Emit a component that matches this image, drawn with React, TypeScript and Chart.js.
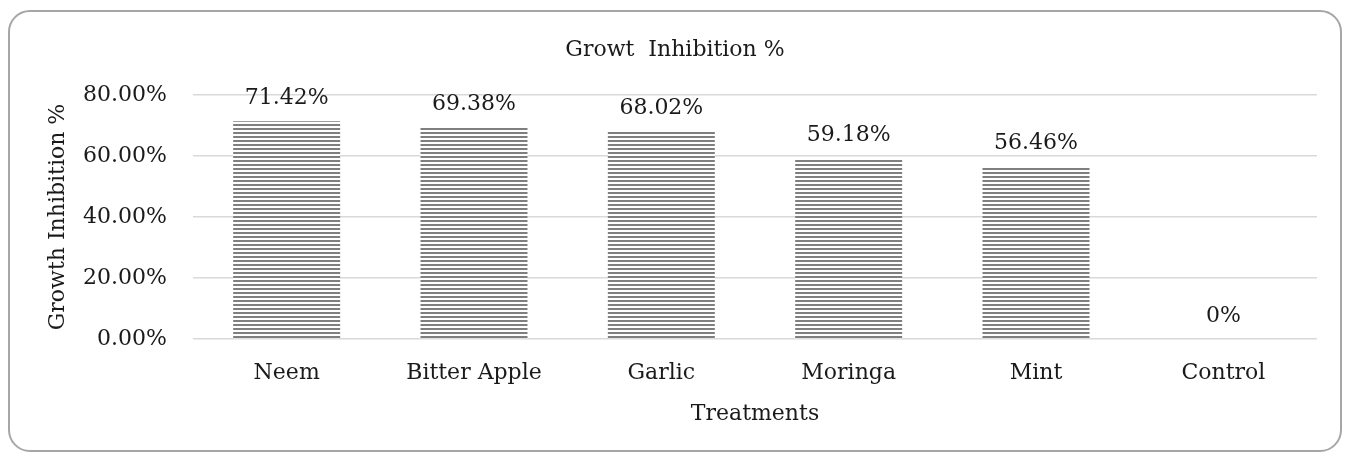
import React, { useEffect, useRef } from "react";
import { Chart, registerables } from "chart.js";

Chart.register(...registerables);

const categories: string[] = ["Neem", "Bitter Apple", "Garlic", "Moringa", "Mint", "Control"];
const inhibitionValues: number[] = [71.42, 69.38, 68.02, 59.18, 56.46, 0];
const valueLabels: string[] = ["71.42%", "69.38%", "68.02%", "59.18%", "56.46%", "0%"];
const yTickValues: number[] = [0, 20, 40, 60, 80];
const chartTitle = "Growt  Inhibition %";
const yAxisTitle = "Growth Inhibition %";
const xAxisTitle = "Treatments";

const FONT = "'DejaVu Serif', serif";
const FONT_SIZE = 22;
const TEXT_COLOR = "#1a1a1a";
const GRID_COLOR = "#d9d9d9";
const STRIPE_COLOR = "#7f7f7f";

function makeStripePattern(ctx: CanvasRenderingContext2D): CanvasPattern | string {
  const c = document.createElement("canvas");
  c.width = 4;
  c.height = 4;
  const p = c.getContext("2d");
  if (!p) return STRIPE_COLOR;
  p.fillStyle = "#ffffff";
  p.fillRect(0, 0, 4, 4);
  p.fillStyle = STRIPE_COLOR;
  p.fillRect(0, 0, 4, 2);
  return ctx.createPattern(c, "repeat") || STRIPE_COLOR;
}

const textPlugin = {
  id: "textPlugin",
  afterDatasetsDraw(chart: any) {
    const ctx: CanvasRenderingContext2D = chart.ctx;
    const meta = chart.getDatasetMeta(0);
    ctx.save();
    ctx.font = `${FONT_SIZE}px ${FONT}`;
    ctx.fillStyle = TEXT_COLOR;
    ctx.textAlign = "center";
    ctx.textBaseline = "alphabetic";
    meta.data.forEach((bar: any, i: number) => {
      ctx.fillText(valueLabels[i], bar.x, bar.y - 17.5);
    });
    ctx.fillText(chartTitle, chart.width / 2, 44);
    ctx.restore();
  },
};

export default function App() {
  const canvasRef = useRef<HTMLCanvasElement | null>(null);

  useEffect(() => {
    const canvas = canvasRef.current;
    if (!canvas) return;
    const ctx = canvas.getContext("2d");
    if (!ctx) return;
    const pattern = makeStripePattern(ctx);

    const chart = new Chart(canvas, {
      type: "bar",
      data: {
        labels: categories,
        datasets: [
          {
            label: yAxisTitle,
            data: inhibitionValues,
            backgroundColor: pattern as any,
            borderWidth: 0,
            inflateAmount: 0,
            categoryPercentage: 0.8,
            barPercentage: 0.714,
          },
        ],
      },
      plugins: [textPlugin],
      options: {
        responsive: false,
        animation: false,
        devicePixelRatio: 1,
        layout: { padding: { left: 35, right: 23, top: 83, bottom: 0 } },
        plugins: {
          legend: { display: false },
          title: { display: false },
          tooltip: { enabled: false },
        },
        scales: {
          x: {
            grid: { display: false, drawTicks: false },
            border: { display: false },
            ticks: {
              padding: 21,
              color: TEXT_COLOR,
              font: { family: FONT, size: FONT_SIZE },
              maxRotation: 0,
              autoSkip: false,
            },
            title: {
              display: true,
              text: xAxisTitle,
              color: TEXT_COLOR,
              font: { family: FONT, size: FONT_SIZE },
              padding: { top: 0, bottom: 23 },
            },
            afterFit: (s: any) => {
              s.height = 111;
            },
          },
          y: {
            min: 0,
            max: 80,
            grid: { color: GRID_COLOR, lineWidth: 1.5, drawTicks: false },
            border: { display: false },
            afterBuildTicks: (s: any) => {
              s.ticks = yTickValues.map((v) => ({ value: v }));
            },
            ticks: {
              padding: 26,
              color: TEXT_COLOR,
              font: { family: FONT, size: FONT_SIZE },
              callback: (v: any) => Number(v).toFixed(2) + "%",
            },
            title: {
              display: true,
              text: yAxisTitle,
              color: TEXT_COLOR,
              font: { family: FONT, size: FONT_SIZE },
              padding: { top: 0, bottom: 0 },
            },
            afterFit: (s: any) => {
              s.width = 148;
            },
          },
        },
      },
    });
    return () => chart.destroy();
  }, []);

  return (
    <div
      style={{
        position: "absolute",
        left: 8,
        top: 10,
        width: 1334,
        height: 442,
        boxSizing: "border-box",
        border: "2px solid #a6a6a6",
        borderRadius: 22,
        background: "#ffffff",
        overflow: "hidden",
      }}
    >
      <canvas ref={canvasRef} width={1330} height={438} style={{ display: "block" }} />
    </div>
  );
}
